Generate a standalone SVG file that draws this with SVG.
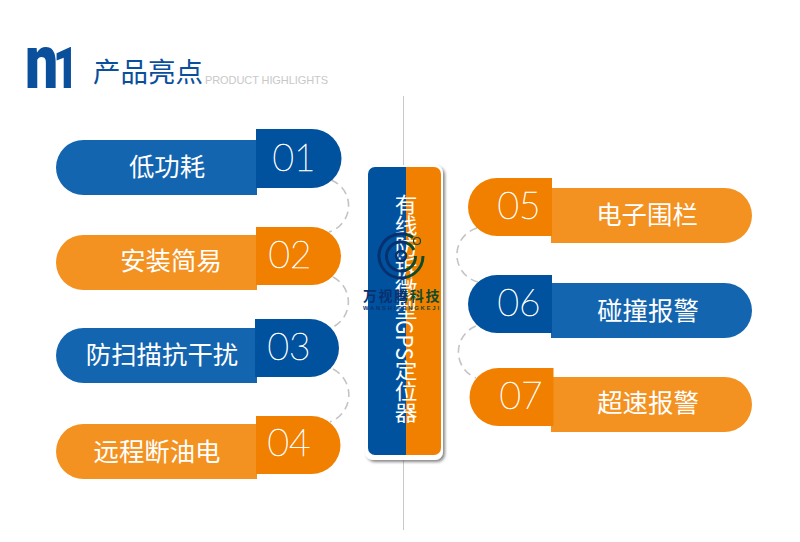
<svg xmlns="http://www.w3.org/2000/svg" width="800" height="542" viewBox="0 0 800 542">
<style>
.t{font-family:"Noto Sans CJK SC","Noto Sans",sans-serif;fill:#fff;font-size:25.4px;font-weight:400;text-anchor:middle}
.n{font-family:"Lato","Roboto",sans-serif;fill:#fff;font-size:37px;font-weight:100;stroke:#fff;stroke-width:.6;text-anchor:middle}
.b{fill:#1465b0}.bd{fill:#01529e}.o{fill:#f39221}.od{fill:#f28000}
.c{fill:none;stroke:#c4c4c4;stroke-width:1.6;stroke-dasharray:8 5}
</style>
<defs>
<linearGradient id="lg" gradientUnits="userSpaceOnUse" x1="363" y1="0" x2="439" y2="0"><stop offset="0" stop-color="#07306e"/><stop offset=".56" stop-color="#07306e"/><stop offset=".58" stop-color="#0f4a2a"/><stop offset="1" stop-color="#0f4a2a"/></linearGradient>
<filter id="sh" x="-20%" y="-10%" width="140%" height="120%"><feDropShadow dx="2" dy="2" stdDeviation="1.6" flood-color="#555" flood-opacity=".7"/></filter>
</defs>
<rect width="800" height="542" fill="#fff"/>
<g id="header">
<text transform="translate(25 88) scale(.88 1.14)" font-family="Roboto,sans-serif" font-weight="900" fill="#0a4f9c"><tspan font-size="67">n</tspan><tspan font-size="50" dx="-6">1</tspan></text>
<text x="93" y="82" font-family="Noto Sans CJK SC,sans-serif" font-size="27.5" font-weight="400" fill="#0a4f9c">产品亮点</text>
<text x="205" y="84" font-family="Liberation Sans,sans-serif" font-size="11" fill="#c8c8c8" textLength="123">PRODUCT HIGHLIGHTS</text>
</g>
<line x1="403.5" y1="96" x2="403.5" y2="530" stroke="#c8c8c8" stroke-width="1"/>
<g id="connectors">
<path class="c" d="M331 180A27.5 27.5 0 0 1 329 232"/>
<path class="c" d="M333 277A28 28 0 0 1 333 327"/>
<path class="c" d="M333 369A29 29 0 0 1 330 422"/>
<path class="c" d="M477 228A28 28 0 0 0 478 282"/>
<path class="c" d="M476 326A28 28 0 0 0 476 378"/>
</g>
<g id="n01"><path class="b" d="M257 140H83.500a27.500 27.500 0 0 0 0 55H257z"/><path class="bd" d="M256 129h56a29.500 29.500 0 0 1 0 59h-56z"/><text class="t" x="167" y="176">低功耗</text><text class="n" x="294" y="171">01</text></g>
<g id="n02"><path class="o" d="M257 235H83.500a27.500 27.500 0 0 0 0 55H257z"/><path class="od" d="M256 227h56a29 29 0 0 1 0 58h-56z"/><text class="t" x="171" y="270">安装简易</text><text class="n" x="290" y="268">02</text></g>
<g id="n03"><path class="b" d="M257 328H83.500a27.500 27.500 0 0 0 0 55H257z"/><path class="bd" d="M255 319h55a29 29 0 0 1 0 58h-55z"/><text class="t" x="162" y="364">防扫描抗干扰</text><text class="n" x="289" y="360">03</text></g>
<g id="n04"><path class="o" d="M257 424H83.500a27.500 27.500 0 0 0 0 55H257z"/><path class="od" d="M256 416h55.500a29 29 0 0 1 0 58h-55.500z"/><text class="t" x="157" y="461">远程断油电</text><text class="n" x="289" y="456">04</text></g>
<g id="n05"><path class="o" d="M551 188H724.500a27.500 27.500 0 0 1 0 55H551z"/><path class="od" d="M552 178h-55a29 29 0 0 0 0 58h55z"/><text class="t" x="647" y="224">电子围栏</text><text class="n" x="519" y="219">05</text></g>
<g id="n06"><path class="b" d="M551 283H724.500a27.500 27.500 0 0 1 0 55H551z"/><path class="bd" d="M552 275h-55a29 29 0 0 0 0 58h55z"/><text class="t" x="648" y="320">碰撞报警</text><text class="n" x="519" y="316">06</text></g>
<g id="n07"><path class="o" d="M551 377H724.500a27.500 27.500 0 0 1 0 55H551z"/><path class="od" d="M553.500 368h-55a29 29 0 0 0 0 58h55z"/><text class="t" x="648" y="412">超速报警</text><text class="n" x="521" y="409">07</text></g>
<g id="center">
<rect x="365" y="165" width="78" height="295" rx="8" fill="#fff" filter="url(#sh)"/>
<path class="bd" d="M406 167h-31a7 7 0 0 0-7 7v274a7 7 0 0 0 7 7h31z"/>
<path class="od" d="M406 167h28a7 7 0 0 1 7 7v274a7 7 0 0 1-7 7h-28z"/>
<text transform="translate(406 194) scale(1.08 1) translate(-406 -194)" x="406" y="194" font-family="Noto Sans CJK SC,sans-serif" font-size="21" font-weight="400" fill="#fff" style="writing-mode:vertical-rl">有线防拆微型GPS定位器</text>
</g>
<g id="logo" fill="none" stroke="url(#lg)">
<path stroke-width="3" d="M413 237.500A22 22 0 1 0 423 256"/>
<path stroke-width="3" d="M414 250A14.500 14.500 0 1 0 415.500 256"/>
<circle cx="401" cy="256" r="5" stroke-width="2.500"/>
<circle cx="417" cy="241" r="3.500" stroke-width="1.200"/>
<text x="363" y="300.500" font-family="Noto Sans CJK SC,sans-serif" font-size="14" font-weight="700" fill="url(#lg)" stroke="none" letter-spacing="1.600">万视腾科技</text>
<text x="363" y="309.700" font-family="Liberation Sans,sans-serif" font-size="5.800" font-weight="700" fill="url(#lg)" stroke="none" textLength="76">WANSHITENGKEJI</text>
</g>
</svg>
